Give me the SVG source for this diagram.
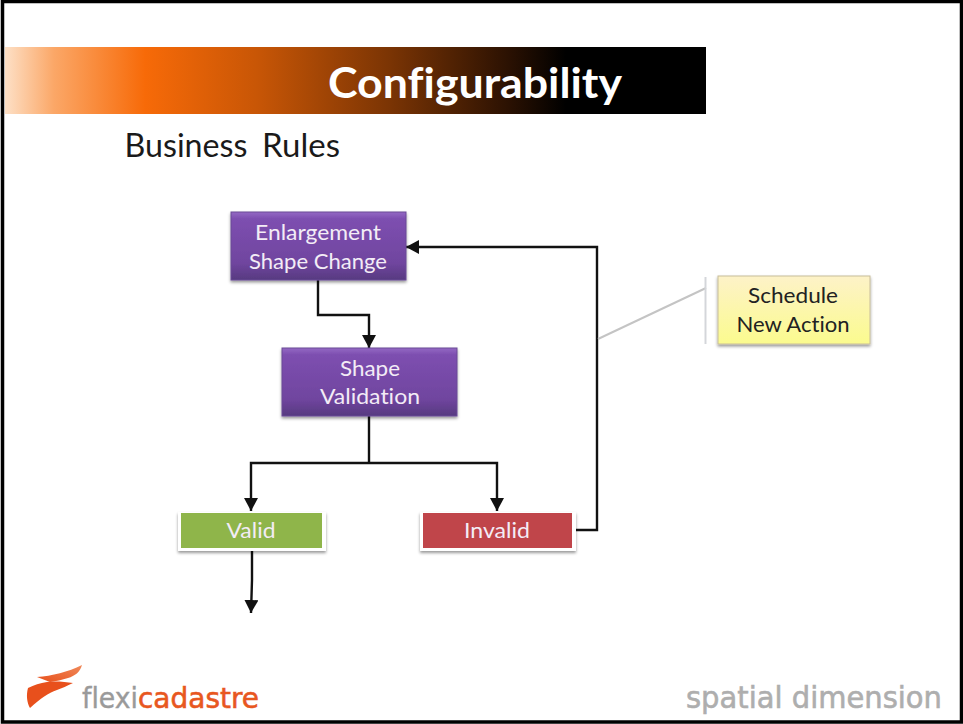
<svg xmlns="http://www.w3.org/2000/svg" width="963" height="724" viewBox="0 0 963 724">
<style>
text{font-family:Lato,"Open Sans","Liberation Sans",sans-serif;text-anchor:middle;font-variant-ligatures:none}
.w{fill:#f3ecf6;font-size:22px}
.d{fill:#222;font-size:22px}
.c{fill:none;stroke:#111;stroke-width:2.400}
.p{fill:url(#purple);stroke:#6a4a96;stroke-width:1;filter:url(#sh)}
.logo{font-family:"DejaVu Sans",sans-serif;text-anchor:start}
</style>
<defs>
<linearGradient id="band" x1="0" x2="1" y1="0" y2="0">
<stop offset="0" stop-color="#fde0c6"/><stop offset="0.07" stop-color="#fba767"/><stop offset="0.2" stop-color="#f76a08"/><stop offset="0.36" stop-color="#c85606"/><stop offset="0.55" stop-color="#7a3404"/><stop offset="0.72" stop-color="#2a1102"/><stop offset="0.8" stop-color="#000"/><stop offset="1" stop-color="#000"/>
</linearGradient>
<linearGradient id="purple" x1="0" x2="0" y1="0" y2="1">
<stop offset="0" stop-color="#9468c4"/><stop offset="0.1" stop-color="#7d4fb0"/><stop offset="0.75" stop-color="#70459f"/><stop offset="1" stop-color="#573a80"/>
</linearGradient>
<linearGradient id="yellow" x1="0" x2="0" y1="0" y2="1">
<stop offset="0" stop-color="#fdf2c8"/><stop offset="1" stop-color="#fbfb8e"/>
</linearGradient>
<linearGradient id="swoosh" x1="0" x2="1" y1="1" y2="0">
<stop offset="0" stop-color="#e8501c"/><stop offset="1" stop-color="#f08a5a"/>
</linearGradient>
<filter id="sh" x="-10%" y="-10%" width="120%" height="130%"><feDropShadow dx="0" dy="2" stdDeviation="1.500" flood-color="#000" flood-opacity="0.4"/></filter>
<marker id="a" markerUnits="userSpaceOnUse" markerWidth="14" markerHeight="14" refX="13" refY="7" orient="auto"><path d="M0 0L13 7L0 14Z" fill="#111"/></marker>
</defs>
<rect width="963" height="724" fill="#fff"/>
<path d="M2.500 1.500H961.500V722H2.500Z" fill="none" stroke="#000" stroke-width="3.500"/>
<rect id="title-band" x="5" y="47" width="701" height="67" fill="url(#band)"/>
<text x="475" y="98" font-size="42" font-weight="700" fill="#fff" textLength="294" lengthAdjust="spacingAndGlyphs">Configurability</text>
<text x="186" y="157" font-size="32" fill="#1a1a1a" textLength="123" lengthAdjust="spacingAndGlyphs">Business</text>
<text x="301" y="157" font-size="32" fill="#1a1a1a" textLength="78" lengthAdjust="spacingAndGlyphs">Rules</text>

<g id="connectors">
<path class="c" marker-end="url(#a)" d="M318 280V315H369V348"/>
<path class="c" d="M369 416V463"/>
<path class="c" marker-end="url(#a)" d="M369 463H251V511"/>
<path class="c" marker-end="url(#a)" d="M369 463H497V511"/>
<path class="c" marker-end="url(#a)" d="M252 550V580L251 613"/>
<path class="c" marker-end="url(#a)" d="M573 530H597V247H406"/>
<path d="M598 339L706 288" fill="none" stroke="#c4c4c4" stroke-width="2"/>
<path d="M705.500 277V344" fill="none" stroke="#d4d6da" stroke-width="2"/>
</g>

<g id="node-enlargement">
<rect class="p" x="231" y="212" width="175" height="68"/>
<text class="w" x="318" y="240" textLength="126" lengthAdjust="spacingAndGlyphs">Enlargement</text>
<text class="w" x="318" y="269" textLength="138" lengthAdjust="spacingAndGlyphs">Shape Change</text>
</g>
<g id="node-validation">
<rect class="p" x="282" y="348" width="175" height="68"/>
<text class="w" x="370" y="376" textLength="60" lengthAdjust="spacingAndGlyphs">Shape</text>
<text class="w" x="370" y="404" textLength="100" lengthAdjust="spacingAndGlyphs">Validation</text>
</g>
<g id="node-valid">
<rect x="178" y="512" width="148" height="39" fill="#fff" filter="url(#sh)"/>
<rect x="181" y="513" width="141" height="35" fill="#8fb54a"/>
<text class="w" x="251" y="538" textLength="49" lengthAdjust="spacingAndGlyphs">Valid</text>
</g>
<g id="node-invalid">
<rect x="420" y="512" width="156" height="39" fill="#fff" filter="url(#sh)"/>
<rect x="423" y="513" width="149" height="35" fill="#c0454a"/>
<text class="w" x="497" y="538" textLength="66" lengthAdjust="spacingAndGlyphs">Invalid</text>
</g>
<g id="node-schedule">
<rect x="718" y="276" width="152" height="68" fill="url(#yellow)" stroke="#c8bd9a" filter="url(#sh)"/>
<text class="d" x="793" y="303" textLength="90" lengthAdjust="spacingAndGlyphs">Schedule</text>
<text class="d" x="793" y="332" textLength="113" lengthAdjust="spacingAndGlyphs">New Action</text>
</g>

<g id="logo-flexicadastre">
<path d="M37 677C52 676 68 672 82 665C80 672 75 676 68 678C62 680 56 681 50 682Z" fill="url(#swoosh)"/>
<path d="M28 688C34 685 40 683 47 682C56 681 65 682 73 683C67 686 62 688 57 690C48 693 41 698 30 708C27 703 26 695 28 688Z" fill="#e8501c"/>
<text class="logo" x="82" y="708" font-size="29" fill="#9a9a9a" stroke="#9a9a9a" stroke-width="0.400" textLength="56" lengthAdjust="spacingAndGlyphs">flexi</text>
<text class="logo" x="138" y="708" font-size="29" fill="#e8571f" stroke="#e8571f" stroke-width="0.600" textLength="121" lengthAdjust="spacingAndGlyphs">cadastre</text>
</g>
<text id="logo-spatial" class="logo" x="686" y="708" font-size="31" fill="#aeaeae" stroke="#aeaeae" stroke-width="0.600" textLength="256" lengthAdjust="spacingAndGlyphs">spatial dimension</text>
</svg>
